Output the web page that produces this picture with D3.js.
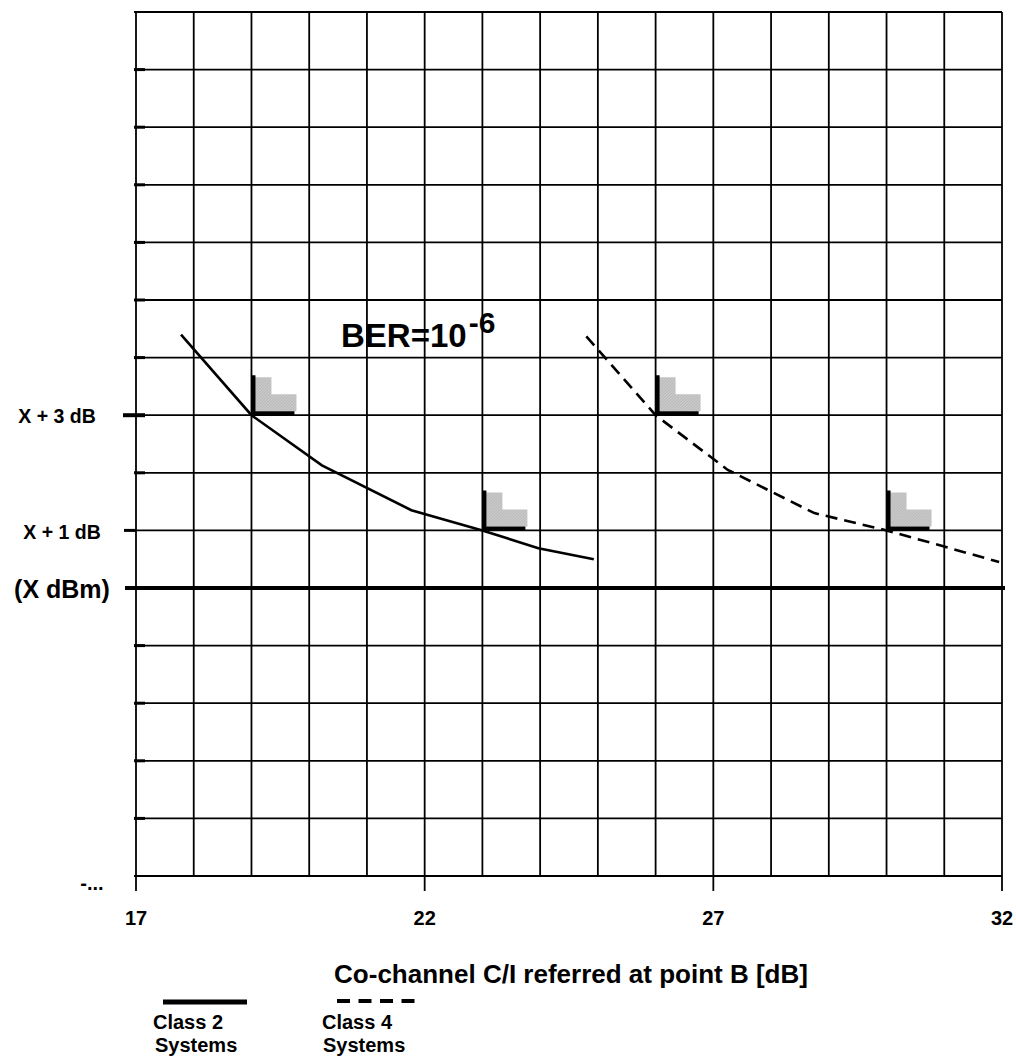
<!DOCTYPE html>
<html>
<head>
<meta charset="utf-8">
<style>
    body {
        margin: 0;
        background: #fff;
    }

    text {
        font-family: "Liberation Sans", Arial, sans-serif;
        font-weight: bold;
        fill: #000;
    }
</style>
<script src="https://d3js.org/d3.v7.min.js"></script>
</head>
<body>
<svg id="chart" width="1016" height="1059"></svg>

<script>
    // C/I axis [dB] and level axis [dB relative to X dBm]
    const xDomain = [17, 32]
    const yDomain = [-5, 10]
    const xTickLabels = [17, 22, 27, 32]

    const yTickValues = [3, 1, 0, -5]
    const yTickLabels = ["X + 3 dB", "X + 1 dB", "(X dBm)", "-..."]

    // Class 2 systems (solid)
    const class2CI = [17.78, 19.0, 20.22, 21.77, 23.0, 23.97, 24.93]
    const class2Level = [4.4, 3.0, 2.13, 1.35, 1.0, 0.69, 0.5]

    // Class 4 systems (dashed)
    const class4CI = [24.8, 26.0, 27.25, 28.75, 30.0, 31.0, 31.95]
    const class4Level = [4.37, 3.0, 2.05, 1.3, 1.0, 0.72, 0.45]

    // reference points marked with the L-shaped "region" marker
    const markerCI = [19, 23, 26, 30]
    const markerLevel = [3, 1, 3, 1]

    const legendLabels = [["Class 2", "Systems"], ["Class 4", "Systems"]]

    // set the dimensions and margins of the graph
    const margin = {
            top: 12,
            left: 136
        },
        width = 866,
        height = 864;

    const svg = d3.select("#chart")

    // hatch pattern for the grey step shapes
    const pat = svg.append("defs").append("pattern")
        .attr("id", "hatch")
        .attr("patternUnits", "userSpaceOnUse")
        .attr("width", 3)
        .attr("height", 3)
    pat.append("rect")
        .attr("width", 3).attr("height", 3)
        .attr("fill", "#d0d0d0")
    pat.append("path")
        .attr("d", "M0,3 L3,0")
        .attr("stroke", "#a0a0a0")
        .attr("stroke-width", 0.8)

    const g = svg.append("g")
        .attr("transform", "translate(" + margin.left + "," + margin.top + ")")

    const x = d3.scaleLinear()
        .domain(xDomain)
        .range([0, width])
    const y = d3.scaleLinear()
        .domain(yDomain)
        .range([height, 0])

    // grid
    g.append("g")
        .selectAll("line")
        .data(d3.range(xDomain[0], xDomain[1] + 1))
        .join("line")
        .attr("x1", d => x(d)).attr("x2", d => x(d))
        .attr("y1", 0).attr("y2", height)
        .attr("stroke", "#000")
        .attr("stroke-width", 1.8)

    g.append("g")
        .selectAll("line")
        .data(d3.range(yDomain[0], yDomain[1] + 1))
        .join("line")
        .attr("x1", -2).attr("x2", width)
        .attr("y1", d => y(d)).attr("y2", d => y(d))
        .attr("stroke", "#000")
        .attr("stroke-width", 1.8)

    // small thick ticks on the left edge
    g.append("g")
        .selectAll("line")
        .data(d3.range(yDomain[0] + 1, yDomain[1]).filter(d => yTickValues.indexOf(d) < 0))
        .join("line")
        .attr("x1", -2).attr("x2", 9)
        .attr("y1", d => y(d)).attr("y2", d => y(d))
        .attr("stroke", "#000")
        .attr("stroke-width", 3)

    // labelled ticks on the left
    const tickExtent = {
        3: [-13, 9],
        1: [-12, 0],
        0: [-11, width + 3]
    }
    g.append("g")
        .selectAll("line")
        .data(yTickValues.filter(d => tickExtent[d]))
        .join("line")
        .attr("x1", d => tickExtent[d][0]).attr("x2", d => tickExtent[d][1])
        .attr("y1", d => y(d)).attr("y2", d => y(d))
        .attr("stroke", "#000")
        .attr("stroke-width", d => d == 1 ? 3 : 4)

    // y labels
    const yLabelPos = [
        { x: -79, dy: 8, size: 19.5 },
        { x: -74, dy: 9, size: 19.5 },
        { x: -74, dy: 10, size: 25 },
        { x: -44, dy: 14, size: 20 }
    ]
    g.append("g")
        .selectAll("text")
        .data(yTickValues)
        .join("text")
        .attr("x", (d, i) => yLabelPos[i].x)
        .attr("y", d => y(d))
        .attr("dy", (d, i) => yLabelPos[i].dy)
        .attr("text-anchor", "middle")
        .attr("font-size", (d, i) => yLabelPos[i].size)
        .text((d, i) => yTickLabels[i])

    // x major ticks and labels
    g.append("g")
        .selectAll("line")
        .data(xTickLabels)
        .join("line")
        .attr("x1", d => x(d)).attr("x2", d => x(d))
        .attr("y1", height).attr("y2", height + 15)
        .attr("stroke", "#000")
        .attr("stroke-width", 1.8)

    g.append("g")
        .selectAll("text")
        .data(xTickLabels)
        .join("text")
        .attr("x", d => x(d))
        .attr("y", height + 49)
        .attr("text-anchor", "middle")
        .attr("font-size", 20)
        .text(d => d)

    // x title
    g.append("text")
        .attr("x", 571 - margin.left)
        .attr("y", 983 - margin.top)
        .attr("text-anchor", "middle")
        .attr("font-size", 26)
        .text("Co-channel C/I referred at point B [dB]")

    // curves
    const line = d3.line()
        .x(d => x(d[0]))
        .y(d => y(d[1]))

    g.append("path")
        .datum(d3.zip(class2CI, class2Level))
        .attr("d", line)
        .attr("fill", "none")
        .attr("stroke", "#000")
        .attr("stroke-width", 2.6)

    g.append("path")
        .datum(d3.zip(class4CI, class4Level))
        .attr("d", line)
        .attr("fill", "none")
        .attr("stroke", "#000")
        .attr("stroke-width", 2.6)
        .attr("stroke-dasharray", "12,7")

    // markers: grey step + black L
    const markers = g.append("g")
        .selectAll("g")
        .data(d3.zip(markerCI, markerLevel))
        .join("g")
        .attr("transform", d => "translate(" + x(d[0]) + "," + y(d[1]) + ")")

    markers.append("path")
        .attr("d", "M2,-38 H20 V-21 H45 V-4 H2 Z")
        .attr("fill", "url(#hatch)")
    markers.append("path")
        .attr("d", "M2,-40 V-2 H43")
        .attr("fill", "none")
        .attr("stroke", "#000")
        .attr("stroke-width", 4)

    // BER annotation
    const ber = g.append("text")
        .attr("x", 341 - margin.left)
        .attr("y", 347 - margin.top)
        .attr("font-size", 33)
    ber.append("tspan").text("BER=10")
    ber.append("tspan")
        .attr("dx", 2)
        .attr("dy", -14)
        .attr("font-size", 30)
        .text("-6")

    // legend
    const legend = svg.append("g")
    legend.append("line")
        .attr("x1", 163).attr("x2", 247)
        .attr("y1", 1002).attr("y2", 1002)
        .attr("stroke", "#000")
        .attr("stroke-width", 5)
    legend.append("line")
        .attr("x1", 337).attr("x2", 415)
        .attr("y1", 1001).attr("y2", 1001)
        .attr("stroke", "#000")
        .attr("stroke-width", 4)
        .attr("stroke-dasharray", "13,8.5")

    const legendPos = [
        [{ x: 153, y: 1029 }, { x: 155, y: 1052 }],
        [{ x: 322, y: 1029 }, { x: 323, y: 1052 }]
    ]
    legendLabels.forEach(function(lines, i) {
        lines.forEach(function(t, j) {
            legend.append("text")
                .attr("x", legendPos[i][j].x)
                .attr("y", legendPos[i][j].y)
                .attr("font-size", 20)
                .text(t)
        })
    })
</script>
</body>
</html>
